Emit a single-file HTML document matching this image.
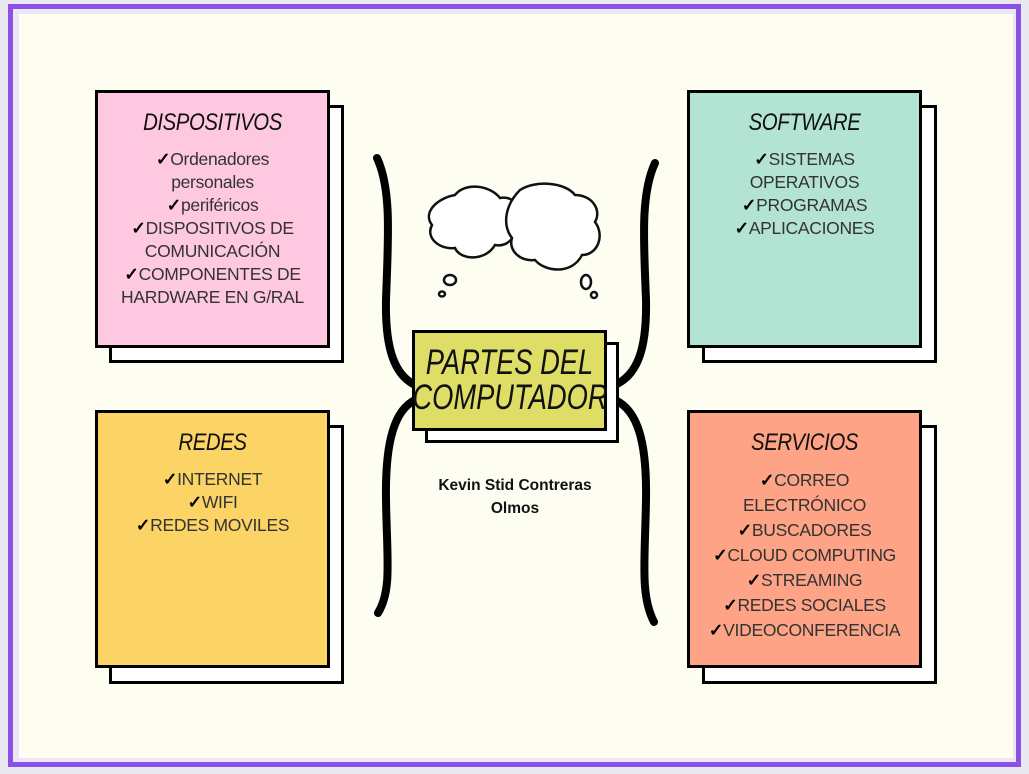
<!DOCTYPE html>
<html><head><meta charset="utf-8"><style>
body{margin:0;width:1029px;height:774px;background:#e9e7ef;position:relative;overflow:hidden;font-family:"Liberation Sans",sans-serif}
.frame{position:absolute;left:8px;top:4px;width:1013px;height:763px;box-sizing:border-box;border:5px solid #8b50e6;background:#ebe6f5}
.inner{position:absolute;left:19px;top:14px;width:994px;height:744px;background:#fefdf1}
.sh{position:absolute;background:#fff;border:3px solid #000;box-sizing:border-box}
.bx{position:absolute;border:3px solid #000;box-sizing:border-box;text-align:center;color:#333}
.t{font-style:italic;font-size:24px;color:#111;margin-top:16px;margin-bottom:11px;letter-spacing:-0.5px;transform:scaleX(0.85)}
.l{font-size:17.5px;line-height:23px;letter-spacing:-0.3px}
.l2{line-height:25px}
.c{color:#000;font-weight:bold}
</style></head><body>
<div class="frame"></div>
<div class="inner"></div>
<svg style="position:absolute;left:0;top:0" width="1029" height="774">
<path d="M377,158 C392,190 388,240 386,300 C385,350 395,375 415,385" fill="none" stroke="#000" stroke-width="8" stroke-linecap="round"/>
<path d="M415,400 C395,410 385,440 386,500 C387,560 392,590 378,613" fill="none" stroke="#000" stroke-width="8" stroke-linecap="round"/>
<path d="M655,163 C640,195 644,245 646,300 C647,350 637,375 615,385" fill="none" stroke="#000" stroke-width="8" stroke-linecap="round"/>
<path d="M615,400 C637,410 647,440 646,500 C645,560 640,595 654,622" fill="none" stroke="#000" stroke-width="8" stroke-linecap="round"/>
<g fill="#fff" stroke="#111" stroke-width="2.5">
<path d="M455,195 C465,182 490,185 500,198 C515,195 522,210 512,220 C520,232 510,248 495,245 C485,262 460,260 455,248 C440,250 425,238 432,225 C422,212 438,198 455,195 Z"/>
<path d="M520,190 C535,180 565,182 575,195 C592,195 602,210 595,222 C605,235 598,255 582,255 C572,275 545,272 535,260 C520,262 508,250 512,238 C502,225 505,205 520,190 Z"/>
<ellipse cx="450" cy="280" rx="6" ry="5"/><ellipse cx="442" cy="294" rx="3" ry="2.5"/>
<ellipse cx="586" cy="282" rx="5" ry="7"/><ellipse cx="594" cy="295" rx="3" ry="3"/>
</g>
</svg>
<div class="sh" style="left:109px;top:105px;width:235px;height:258px"></div>
<div class="bx" style="left:95px;top:90px;width:235px;height:258px;background:#fdc8e0"><div class="t">DISPOSITIVOS</div><div class="l"><span class="c">✓</span>Ordenadores<br>personales<br><span class="c">✓</span>periféricos<br><span class="c">✓</span>DISPOSITIVOS DE<br>COMUNICACIÓN<br><span class="c">✓</span>COMPONENTES DE<br>HARDWARE EN G/RAL</div></div>
<div class="sh" style="left:702px;top:105px;width:235px;height:258px"></div>
<div class="bx" style="left:687px;top:90px;width:235px;height:258px;background:#b3e3d3"><div class="t">SOFTWARE</div><div class="l"><span class="c">✓</span>SISTEMAS<br>OPERATIVOS<br><span class="c">✓</span>PROGRAMAS<br><span class="c">✓</span>APLICACIONES</div></div>
<div class="sh" style="left:109px;top:425px;width:235px;height:259px"></div>
<div class="bx" style="left:95px;top:410px;width:235px;height:258px;background:#fbd465"><div class="t">REDES</div><div class="l"><span class="c">✓</span>INTERNET<br><span class="c">✓</span>WIFI<br><span class="c">✓</span>REDES MOVILES</div></div>
<div class="sh" style="left:702px;top:425px;width:235px;height:259px"></div>
<div class="bx" style="left:687px;top:410px;width:235px;height:258px;background:#fea385"><div class="t">SERVICIOS</div><div class="l l2"><span class="c">✓</span>CORREO<br>ELECTRÓNICO<br><span class="c">✓</span>BUSCADORES<br><span class="c">✓</span>CLOUD COMPUTING<br><span class="c">✓</span>STREAMING<br><span class="c">✓</span>REDES SOCIALES<br><span class="c">✓</span>VIDEOCONFERENCIA</div></div>
<div class="sh" style="left:425px;top:342px;width:194px;height:101px"></div>
<div class="bx" style="left:412px;top:330px;width:195px;height:101px;background:#dedd66;color:#111;font-style:italic;font-size:35px;line-height:35px;padding-top:12px"><div style="transform:scaleX(0.78);white-space:nowrap;margin-left:-30px;margin-right:-30px">PARTES DEL<br>COMPUTADOR</div></div>
<div style="position:absolute;left:410px;top:474px;width:210px;text-align:center;font-weight:bold;font-size:15.5px;line-height:23px;color:#111">Kevin Stid Contreras<br>Olmos</div>
</body></html>
